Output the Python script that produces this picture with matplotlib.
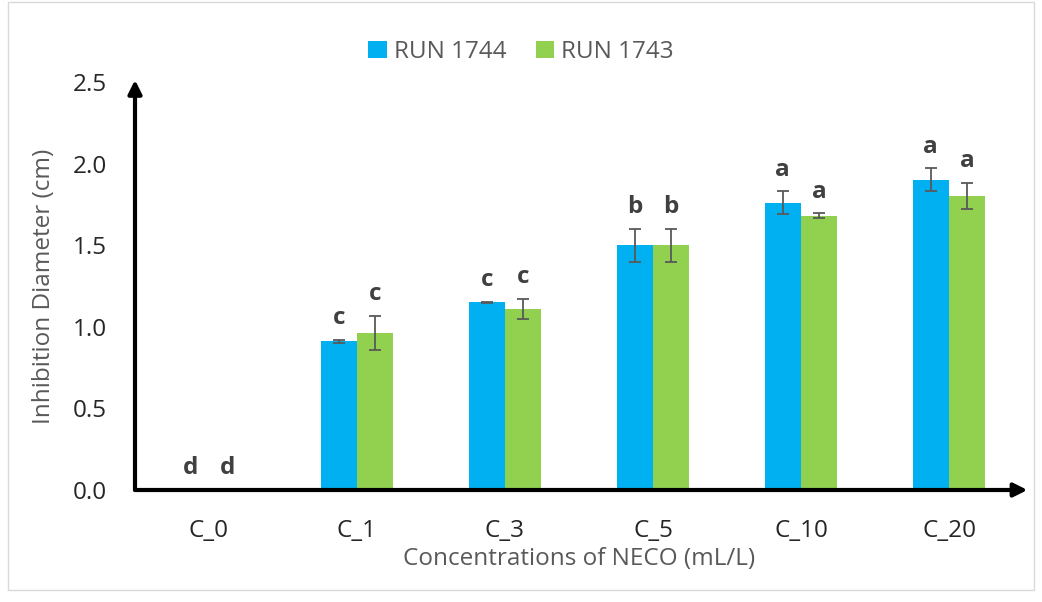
import numpy as np
import matplotlib
matplotlib.use("Agg")
import matplotlib.pyplot as plt
from matplotlib.patches import Rectangle

plt.rcParams['font.family'] = ['Open Sans', 'DejaVu Sans']

categories = ["C_0", "C_1", "C_3", "C_5", "C_10", "C_20"]
run_1744 = [0.0, 0.91, 1.15, 1.50, 1.76, 1.90]
err_1744 = [0.0, 0.012, 0.004, 0.10, 0.07, 0.07]
run_1743 = [0.0, 0.96, 1.11, 1.50, 1.68, 1.80]
err_1743 = [0.0, 0.105, 0.06, 0.10, 0.015, 0.08]
letters_1744 = ["d", "c", "c", "b", "a", "a"]
letters_1743 = ["d", "c", "c", "b", "a", "a"]

BLUE = "#00b0f0"
GREEN = "#92d050"
FS = 17.5

fig = plt.figure(figsize=(10.42, 6.02), dpi=100)
ax = fig.add_axes([135 / 1042, 1 - 490 / 602, (1023 - 135) / 1042, (490 - 82) / 602])

x = np.arange(len(categories))
w = 0.245
ax.bar(x - w / 2, run_1744, w, color=BLUE, label="RUN 1744")
ax.bar(x + w / 2, run_1743, w, color=GREEN, label="RUN 1743")

for xi, v, e in zip(x - w / 2, run_1744, err_1744):
    if v > 0:
        ax.errorbar(xi, v, yerr=e, color="#595959", capsize=4.5, elinewidth=1.3, capthick=1.3)
for xi, v, e in zip(x + w / 2, run_1743, err_1743):
    if v > 0:
        ax.errorbar(xi, v, yerr=e, color="#595959", capsize=4.5, elinewidth=1.3, capthick=1.3)

for xi, v, e, t in zip(x - w / 2, run_1744, err_1744, letters_1744):
    ax.text(xi, v + e + 0.06, t, ha="center", va="bottom", fontsize=FS,
            fontweight="bold", color="#404040")
for xi, v, e, t in zip(x + w / 2, run_1743, err_1743, letters_1743):
    ax.text(xi, v + e + 0.06, t, ha="center", va="bottom", fontsize=FS,
            fontweight="bold", color="#404040")

ax.set_xlim(-0.5, 5.5)
ax.set_ylim(0, 2.5)
ax.set_yticks(np.arange(0, 2.51, 0.5))
ax.set_yticklabels([f"{t:.1f}" for t in np.arange(0, 2.51, 0.5)])
ax.set_xticks(x)
ax.set_xticklabels(categories)
ax.tick_params(axis="both", length=0, labelsize=FS, colors="#262626")
ax.tick_params(axis="x", pad=21)
ax.tick_params(axis="y", pad=20)

for s in ax.spines.values():
    s.set_visible(False)

# arrow axes
ax.annotate("", xy=(1.005, 0), xytext=(0, 0), xycoords="axes fraction",
            arrowprops=dict(arrowstyle="-|>", color="black", lw=3, mutation_scale=20,
                            shrinkA=0, shrinkB=0), annotation_clip=False)
ax.annotate("", xy=(0, 1.005), xytext=(0, 0), xycoords="axes fraction",
            arrowprops=dict(arrowstyle="-|>", color="black", lw=3, mutation_scale=20,
                            shrinkA=0, shrinkB=0), annotation_clip=False)

ax.set_ylabel("Inhibition Diameter (cm)", fontsize=FS, color="#595959", labelpad=12)
ax.set_xlabel("Concentrations of NECO (mL/L)", fontsize=FS, color="#595959", labelpad=3)

fig.legend(loc="upper center", bbox_to_anchor=(0.5, 0.97), ncol=2, frameon=False,
           fontsize=FS, handlelength=0.75, handleheight=0.75, handletextpad=0.3,
           columnspacing=1.2, labelcolor="#595959")

fig.patches.append(Rectangle((8 / 1042, 12 / 602), 1 - 16 / 1042, 1 - 14 / 602,
                             transform=fig.transFigure, fill=False,
                             edgecolor="#d9d9d9", lw=1))

fig.savefig("out.png", dpi=100)
